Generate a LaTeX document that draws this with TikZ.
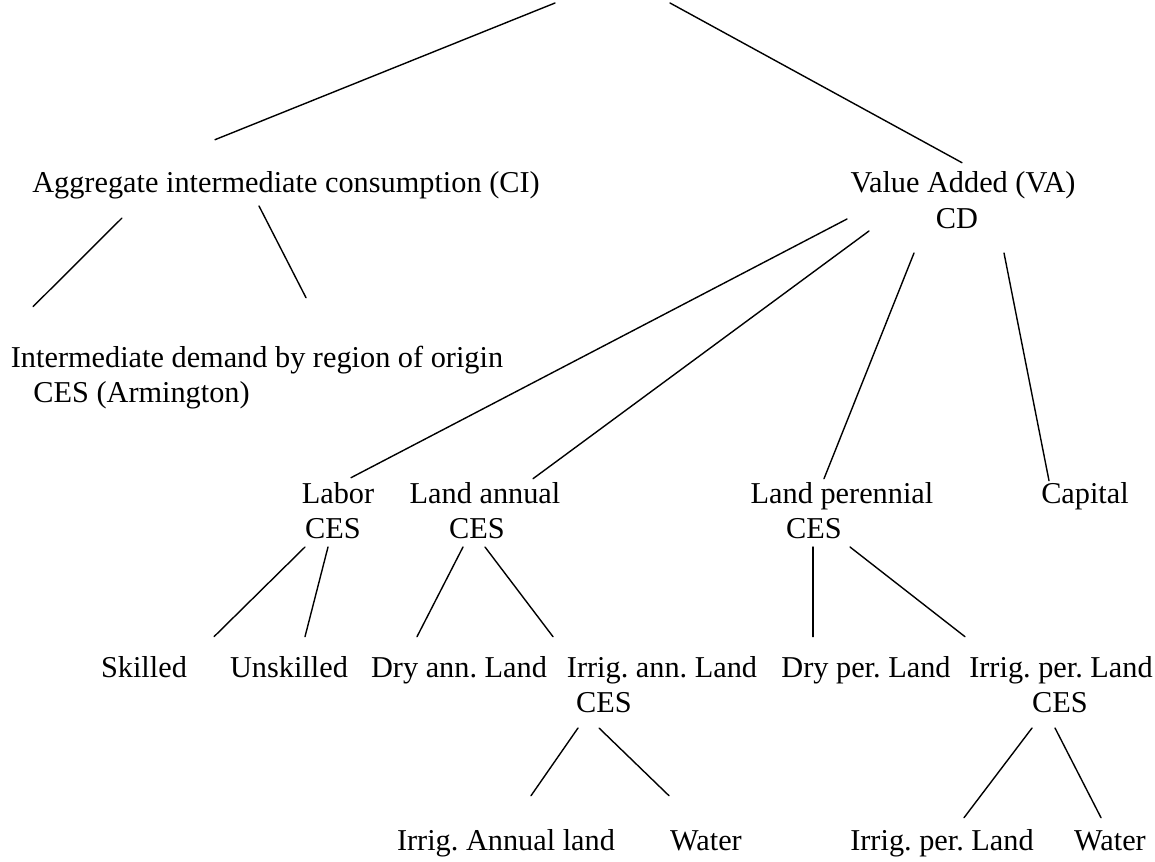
\documentclass[tikz,border=0pt]{standalone}
\usepackage{fontspec}
\setmainfont{Liberation Serif}

\begin{document}
\begin{tikzpicture}[
  x=0.5pt,
  y=-0.5pt,
  treetext/.style={
    font=\fontsize{15.15}{17.5}\selectfont\frenchspacing,
    inner sep=0pt,
    text height=10.45pt,
    text depth=3.3pt,
    anchor=base
  },
  branch/.style={line width=0.7pt, line cap=round}
]

% Canvas
\path[use as bounding box] (0,0) rectangle (1155,861);

% Top ends (parent lies above the page)
\coordinate (topl) at (555,3);
\coordinate (topr) at (670,3);

% First level
\node[treetext] (ci) at (286,192) {Aggregate intermediate consumption (CI)};
\node[treetext] (va) at (963,192) {Value Added (VA)};
\node[treetext] (cd) at (957,228) {CD};

% Intermediate demand
\node[treetext] (idemand) at (257,367) {Intermediate demand by region of origin};
\node[treetext, anchor=base west] (armington) at (33,402) {CES (Armington)};

% Factors
\node[treetext] (labor) at (338,503) {Labor};
\node[treetext] (laborces) at (333,538) {CES};
\node[treetext] (landann) at (485,503) {Land annual};
\node[treetext] (landannces) at (477,538) {CES};
\node[treetext] (landper) at (842,503) {Land perennial};
\node[treetext] (landperces) at (814,538) {CES};
\node[treetext] (capital) at (1085,503) {Capital};

% Sub-factors
\node[treetext] (skilled) at (144,677) {Skilled};
\node[treetext] (unskilled) at (289,677) {Unskilled};
\node[treetext] (dryann) at (459,677) {Dry ann. Land};
\node[treetext] (irrann) at (662,677) {Irrig. ann. Land};
\node[treetext] (irrannces) at (604,712) {CES};
\node[treetext] (dryper) at (866,677) {Dry per. Land};
\node[treetext] (irrper) at (1061,677) {Irrig. per. Land};
\node[treetext] (irrperces) at (1060,712) {CES};

% Bottom level
\node[treetext] (irrannland) at (506,850) {Irrig. Annual land};
\node[treetext] (wateran) at (706,850) {Water};
\node[treetext] (irrperland) at (942,850) {Irrig. per. Land};
\node[treetext] (waterper) at (1110,850) {Water};

% Branches from the top
\draw[branch] (topl) -- ([shift={(-71,-31)}]ci.north);
\draw[branch] (topr) -- ([shift={(-1,-8)}]va.north);

% Branches of CI
\draw[branch] ([shift={(-164,19)}]ci.south) -- ([shift={(-224,-39)}]idemand.north);
\draw[branch] ([shift={(-27,7)}]ci.south) -- ([shift={(49,-48)}]idemand.north);

% Branches of VA
\draw[branch] ([shift={(-110,-16)}]cd.south) -- ([shift={(13,-4)}]labor.north);
\draw[branch] ([shift={(-88,-4)}]cd.south) -- ([shift={(48,-3)}]landann.north);
\draw[branch] ([shift={(-43,18)}]cd.south) -- ([shift={(-18,-3)}]landper.north);
\draw[branch] ([shift={(47,18)}]cd.south) -- ([shift={(-36,-1)}]capital.north);

% Branches of labor and land
\draw[branch] ([shift={(-28,2)}]laborces.south) -- ([shift={(70,-19)}]skilled.north);
\draw[branch] ([shift={(-5,2)}]laborces.south) -- ([shift={(16,-19)}]unskilled.north);
\draw[branch] ([shift={(-14,2)}]landannces.south) -- ([shift={(-42,-19)}]dryann.north);
\draw[branch] ([shift={(8,2)}]landannces.south) -- ([shift={(-109,-19)}]irrann.north);
\draw[branch] ([shift={(-1,2)}]landperces.south) -- ([shift={(-53,-19)}]dryper.north);
\draw[branch] ([shift={(36,2)}]landperces.south) -- ([shift={(-96,-19)}]irrper.north);

% Branches of irrigated land
\draw[branch] ([shift={(-26,9)}]irrannces.south) -- ([shift={(25,-33)}]irrannland.north);
\draw[branch] ([shift={(-5,9)}]irrannces.south) -- ([shift={(-37,-33)}]wateran.north);
\draw[branch] ([shift={(-28,9)}]irrperces.south) -- ([shift={(22,-11)}]irrperland.north);
\draw[branch] ([shift={(-5,9)}]irrperces.south) -- ([shift={(-9,-11)}]waterper.north);

\end{tikzpicture}
\end{document}
